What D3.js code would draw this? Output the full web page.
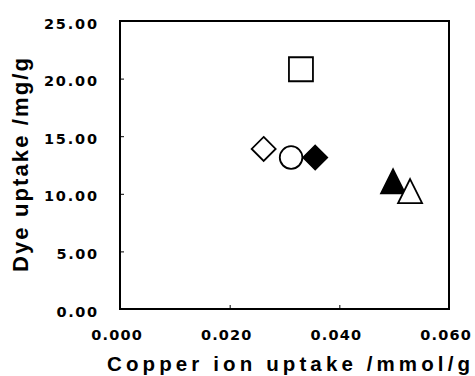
<!DOCTYPE html>
<html><head><meta charset="utf-8">
<script src="https://cdn.jsdelivr.net/npm/d3@7"></script>
<style>
html,body{margin:0;padding:0;background:#fff;}
svg text{font-weight:bold;fill:#000;}
.tick-label{font-family:"DejaVu Sans",sans-serif;}
.title{font-family:"Liberation Sans",Arial,sans-serif;}
</style></head>
<body><svg id="c" width="475" height="376"></svg>
<script>
// Data
const samples = ["A", "B", "C", "D", "E", "F"];
const copperUptake = [0.0330, 0.0262, 0.0312, 0.0356, 0.0498, 0.0529];
const dyeUptake = [20.81, 13.89, 13.15, 13.15, 11.08, 10.24];
const xTicks = [0.000, 0.020, 0.040, 0.060];
const yTicks = [0.00, 5.00, 10.00, 15.00, 20.00, 25.00];
const xTitle = "Copper ion uptake /mmol/g";
const yTitle = "Dye uptake /mg/g";

// Marker appearance per sample (style, not data)
const markerStyle = {
  A: {shape: "square", fill: false},
  B: {shape: "diamond", fill: false},
  C: {shape: "circle", fill: false},
  D: {shape: "diamond", fill: true},
  E: {shape: "triangle", fill: true},
  F: {shape: "triangle", fill: false}
};

const svg = d3.select("#c");
const L = 120, R = 449, T = 21, B = 309;
const x = d3.scaleLinear().domain([0, 0.06]).range([L, R]);
const y = d3.scaleLinear().domain([0, 25]).range([B, T]);

// axes with inward ticks
const xAxis = d3.axisBottom(x).tickValues(xTicks).tickSize(-4).tickFormat("");
const yAxis = d3.axisLeft(y).tickValues(yTicks).tickSize(-4).tickFormat("");
const gx = svg.append("g").attr("transform", `translate(0,${B})`).call(xAxis);
const gy = svg.append("g").attr("transform", `translate(${L},0)`).call(yAxis);
[gx, gy].forEach(g => {
  g.select(".domain").remove();
  g.selectAll(".tick line").attr("stroke", "#000").attr("stroke-width", 1);
});

// frame
svg.append("rect").attr("x", L).attr("y", T).attr("width", R - L).attr("height", B - T)
  .attr("fill", "none").attr("stroke", "#000").attr("stroke-width", 2);

// tick labels
const fmtY = d3.format(".2f"), fmtX = d3.format(".3f");
svg.append("g").selectAll("text").data(yTicks).join("text")
  .attr("class", "tick-label")
  .attr("x", 97).attr("y", d => y(d) + 7.6)
  .attr("text-anchor", "end")
  .attr("font-size", 14.5)
  .attr("textLength", d => fmtY(d).length === 5 ? 53 : 40.5)
  .attr("lengthAdjust", "spacing")
  .text(d => fmtY(d));
svg.append("g").selectAll("text").data(xTicks).join("text")
  .attr("class", "tick-label")
  .attr("x", d => x(d) - 3.5).attr("y", 340)
  .attr("text-anchor", "middle")
  .attr("font-size", 14.5)
  .attr("textLength", 50.5)
  .attr("lengthAdjust", "spacing")
  .text(d => fmtX(d));

// axis titles
svg.append("text").attr("class", "title").attr("x", 107).attr("y", 371)
  .attr("font-size", 20.5).attr("textLength", 363).attr("lengthAdjust", "spacing")
  .text(xTitle);
svg.append("text").attr("class", "title").attr("transform", "translate(28,272) rotate(-90)")
  .attr("font-size", 22).attr("textLength", 214).attr("lengthAdjust", "spacing")
  .text(yTitle);

// markers
const S = 12; // half size
function markerPath(shape) {
  const p = d3.path();
  if (shape === "square") { p.rect(-S, -S, 2 * S, 2 * S); }
  else if (shape === "diamond") { p.moveTo(0, -S); p.lineTo(S, 0); p.lineTo(0, S); p.lineTo(-S, 0); p.closePath(); }
  else if (shape === "circle") { p.arc(0, 0, 11.3, 0, 2 * Math.PI); }
  else if (shape === "triangle") { p.moveTo(0, -S); p.lineTo(S, S); p.lineTo(-S, S); p.closePath(); }
  return p.toString();
}
svg.append("g").selectAll("path").data(samples).join("path")
  .attr("transform", (d, i) => `translate(${x(copperUptake[i])},${y(dyeUptake[i])})`)
  .attr("d", d => markerPath(markerStyle[d].shape))
  .attr("fill", d => markerStyle[d].fill ? "#000" : "#fff")
  .attr("stroke", "#000").attr("stroke-width", 1.8);
</script></body></html>
